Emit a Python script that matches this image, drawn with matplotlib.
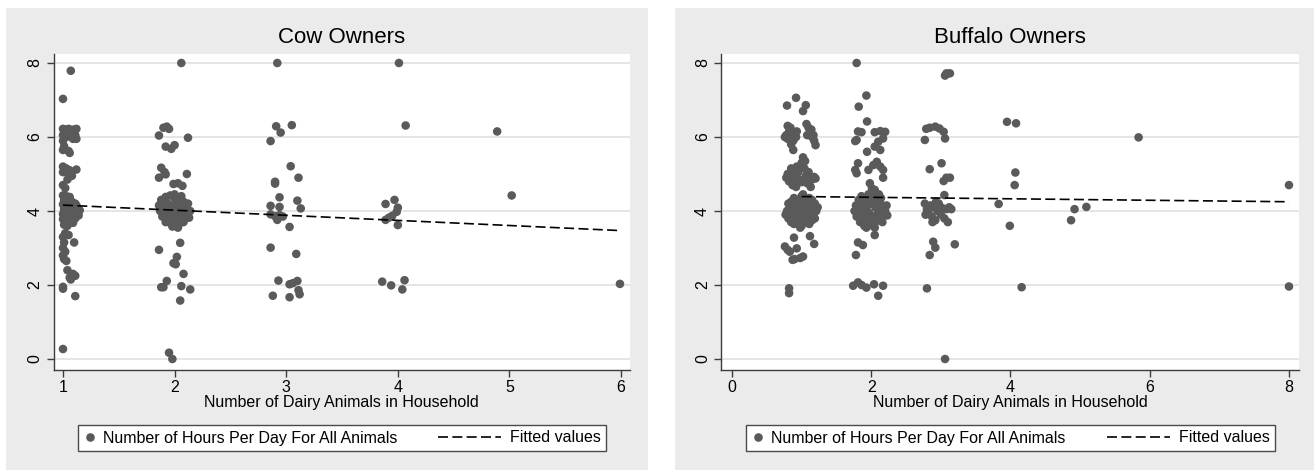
import matplotlib
matplotlib.use("Agg")
import matplotlib.pyplot as plt
from matplotlib.lines import Line2D
from matplotlib.patches import Rectangle
from matplotlib.legend_handler import HandlerBase

plt.rcParams['font.family'] = ['Liberation Sans', 'DejaVu Sans']

# ---------------- data ----------------
panel_titles = ["Cow Owners", "Buffalo Owners"]
x_label = "Number of Dairy Animals in Household"
legend_labels = ["Number of Hours Per Day For All Animals", "Fitted values"]
y_ticks = [0, 2, 4, 6, 8]
y_ticklabels = ["0", "2", "4", "6", "8"]
cow_xticks = [1, 2, 3, 4, 5, 6]
buffalo_xticks = [0, 2, 4, 6, 8]

# Cow owners: (jittered number of animals, hours per day)
cow_col1 = [(1.07, 7.79), (1.00, 7.03),
            (1.00, 6.22), (1.02, 6.20), (1.05, 6.22), (1.09, 6.20), (1.12, 6.22), (1.00, 6.05),
            (1.03, 6.00), (1.08, 6.10), (1.11, 6.05), (1.12, 5.95), (1.00, 5.90), (1.01, 5.75),
            (1.05, 5.62), (1.00, 5.65), (1.09, 5.95), (1.06, 5.57),
            (1.00, 5.20), (1.03, 5.15), (1.06, 5.10), (1.00, 5.05), (1.02, 5.10), (1.12, 5.12),
            (1.08, 4.95), (1.04, 4.85), (1.00, 4.70), (1.02, 4.62), (1.05, 5.00),
            (1.00, 4.42), (1.03, 4.40), (1.06, 4.38), (1.01, 4.30), (1.04, 4.28), (1.08, 4.25),
            (1.11, 4.20), (1.00, 4.18), (1.03, 4.15), (1.06, 4.12), (1.09, 4.10), (1.13, 4.08),
            (1.15, 4.02), (1.01, 4.05), (1.04, 4.00), (1.07, 3.98), (1.10, 3.95), (1.13, 3.92),
            (1.00, 3.92), (1.02, 3.85), (1.05, 3.88), (1.08, 3.83), (1.11, 3.80), (1.00, 3.78),
            (1.03, 3.72), (1.06, 3.70), (1.09, 3.68), (1.01, 3.63), (1.04, 3.60), (1.12, 4.15),
            (1.14, 3.88), (1.02, 4.35), (1.07, 4.05), (1.05, 3.78),
            (1.00, 3.30), (1.01, 3.15), (1.00, 3.00), (1.02, 2.90), (1.00, 2.80), (1.01, 2.70),
            (1.03, 2.65), (1.10, 3.15), (1.02, 3.40), (1.05, 3.35),
            (1.04, 2.40), (1.06, 2.20), (1.09, 2.30), (1.11, 2.25), (1.07, 2.15), (1.00, 1.95),
            (1.00, 1.90), (1.11, 1.70), (1.00, 0.27)]
cow_col2 = [(2.06, 8.00), (1.90, 6.25), (1.93, 6.28), (1.95, 6.22), (1.86, 6.04), (2.12, 5.98),
            (1.92, 5.74), (1.97, 5.68), (2.00, 5.78), (1.88, 5.17), (1.91, 5.05), (1.86, 4.90),
            (1.92, 4.99), (2.11, 5.00), (1.99, 4.73), (2.03, 4.75), (2.07, 4.68),
            (1.88, 4.30), (1.92, 4.38), (1.96, 4.42), (2.00, 4.35), (2.04, 4.30), (2.08, 4.25),
            (2.12, 4.20), (1.86, 4.15), (1.90, 4.12), (1.94, 4.20), (1.98, 4.15), (2.02, 4.18),
            (2.06, 4.10), (2.10, 4.08), (2.14, 4.00), (1.87, 4.00), (1.91, 3.98), (1.95, 4.02),
            (1.99, 3.95), (2.03, 4.00), (2.07, 3.95), (2.11, 3.90), (1.89, 3.85), (1.93, 3.82),
            (1.97, 3.88), (2.01, 3.80), (2.05, 3.85), (2.09, 3.78), (2.13, 3.82), (1.92, 3.70),
            (1.96, 3.68), (2.00, 3.72), (2.04, 3.65), (2.08, 3.70), (1.98, 3.58), (2.03, 3.55),
            (2.00, 4.45), (2.06, 4.40),
            (2.05, 3.14), (1.86, 2.95), (2.02, 2.76), (1.99, 2.59), (2.01, 2.56), (2.08, 2.30),
            (1.93, 2.11), (1.88, 1.94), (1.90, 1.94), (2.06, 1.97), (2.14, 1.88), (2.05, 1.58),
            (1.95, 0.17), (1.98, 0.00)]
cow_col3 = [(2.92, 8.00), (2.91, 6.29), (2.95, 6.12), (3.05, 6.32), (2.86, 5.89), (3.04, 5.21),
            (3.11, 4.90), (2.90, 4.79), (2.90, 4.74), (2.94, 4.37), (3.10, 4.28), (3.13, 4.07),
            (2.86, 4.14), (2.94, 4.11), (2.86, 3.91), (2.90, 3.86), (2.92, 3.76), (2.97, 3.85),
            (2.94, 3.89), (3.03, 3.57), (2.86, 3.01), (3.09, 2.84), (2.93, 2.12), (3.03, 2.02),
            (3.06, 2.05), (3.10, 2.11), (3.11, 1.86), (3.12, 1.75), (2.88, 1.71), (3.03, 1.67)]
cow_col4plus = [(4.01, 8.00), (4.07, 6.31), (4.89, 6.15), (5.02, 4.42), (3.89, 4.19), (3.97, 4.30),
                (4.00, 4.09), (3.99, 3.98), (3.95, 3.87), (3.92, 3.82), (3.89, 3.76), (4.00, 3.62),
                (3.86, 2.09), (3.94, 1.99), (4.04, 1.88), (4.06, 2.13), (5.99, 2.03)]
cow_fit_x = [1, 6]
cow_fit_y = [4.16, 3.47]

# Buffalo owners
buffalo_col1 = [(0.92, 7.06), (0.79, 6.85), (1.06, 6.86), (1.02, 6.70),
                (0.76, 6.00), (0.78, 6.05), (0.80, 5.95), (0.82, 6.15), (0.84, 6.25), (0.86, 6.05),
                (0.88, 5.90), (0.90, 6.10), (0.92, 6.00), (0.85, 5.80), (0.88, 5.65), (0.80, 6.30),
                (0.93, 6.15), (1.07, 6.35), (1.10, 6.25), (1.12, 6.10), (1.15, 6.00), (1.18, 5.90),
                (1.20, 5.78), (1.08, 6.05), (1.14, 6.20), (1.17, 6.05),
                (0.78, 4.90), (0.80, 5.00), (0.82, 4.80), (0.85, 5.15), (0.88, 4.95), (0.90, 4.75),
                (0.93, 5.20), (0.95, 5.05), (0.97, 4.85), (1.00, 5.30), (1.02, 5.45), (1.04, 5.15),
                (1.06, 4.95), (1.08, 4.75), (1.10, 5.05), (1.12, 4.90), (1.15, 4.85), (1.18, 4.92),
                (1.20, 4.88), (0.87, 4.70), (1.05, 5.35), (0.92, 4.65), (1.13, 4.65), (1.00, 4.78),
                (1.21, 4.00), (1.19, 4.20), (1.11, 4.35), (1.00, 4.40), (0.89, 4.35), (0.81, 4.20),
                (0.79, 4.00), (0.81, 3.80), (0.89, 3.65), (1.00, 3.60), (1.11, 3.65), (1.19, 3.80),
                (1.12, 4.09), (1.05, 4.22), (0.95, 4.22), (0.88, 4.09), (0.88, 3.91), (0.95, 3.78),
                (1.05, 3.78), (1.12, 3.91), (1.03, 4.00), (0.97, 4.05), (1.00, 3.93), (1.00, 4.00),
                (1.17, 4.12), (1.08, 4.30), (0.92, 4.30), (0.83, 4.12), (0.83, 3.88), (0.92, 3.70),
                (1.08, 3.70), (1.17, 3.88), (1.06, 4.06), (0.94, 3.94),
                (0.86, 4.00), (1.14, 4.00), (1.00, 4.15), (1.00, 3.82), (0.93, 4.12), (1.07, 3.88),
                (0.93, 3.86), (1.07, 4.14), (0.85, 4.25), (1.15, 3.75), (0.85, 3.78), (1.15, 4.22),
                (1.23, 4.10), (0.77, 3.90), (1.02, 4.45), (0.98, 3.55), (1.15, 4.30), (0.85, 3.70),
                (0.89, 3.28), (1.12, 3.32), (1.18, 3.11), (0.76, 3.04), (0.83, 2.90), (0.93, 2.99),
                (0.87, 2.68), (0.98, 2.73), (1.02, 2.77), (0.80, 2.95), (0.90, 2.70),
                (0.82, 1.91), (0.82, 1.78)]
buffalo_col2 = [(1.79, 8.00), (1.93, 7.12), (1.82, 6.82), (1.94, 6.42), (1.81, 6.15), (1.86, 6.13),
                (1.79, 5.92), (1.77, 5.89), (2.05, 6.13), (2.13, 6.16), (2.20, 6.14), (2.17, 5.96),
                (2.10, 5.87), (2.05, 5.74), (2.13, 5.65), (1.94, 5.60), (1.81, 5.29), (1.77, 5.11),
                (1.79, 5.02), (1.96, 5.11), (2.08, 5.33), (2.13, 5.20), (2.17, 5.11), (2.17, 4.90),
                (2.03, 5.24), (1.98, 4.75), (2.01, 4.61), (2.05, 4.57),
                (1.76, 4.00), (1.78, 4.15), (1.79, 3.85), (1.82, 4.30), (1.83, 4.05), (1.84, 3.70),
                (1.86, 4.40), (1.87, 3.90), (1.88, 4.20), (1.90, 3.60), (1.91, 4.05), (1.92, 4.35),
                (1.94, 3.75), (1.96, 4.45), (1.97, 3.95), (1.98, 3.62), (2.00, 4.25), (2.01, 3.80),
                (2.03, 4.40), (2.05, 3.68), (2.06, 4.10), (2.08, 3.90), (2.09, 4.30), (2.10, 3.75),
                (2.12, 4.05), (2.13, 4.20), (2.15, 3.85), (2.17, 4.10), (2.18, 3.95), (2.20, 4.00),
                (2.22, 4.15), (2.23, 3.88), (1.80, 3.95), (1.85, 4.10), (1.89, 3.80), (2.14, 4.35),
                (2.16, 3.70), (1.95, 4.15), (2.05, 3.55), (1.93, 3.55), (2.11, 4.45),
                (2.05, 3.35), (1.81, 3.15), (1.88, 3.08), (1.78, 2.81), (1.74, 1.98), (1.81, 2.07),
                (1.86, 2.00), (1.93, 1.93), (2.04, 2.02), (2.17, 1.98), (2.10, 1.71)]
buffalo_col3 = [(3.06, 7.66), (3.08, 7.72), (3.13, 7.72), (2.79, 6.22), (2.84, 6.25), (2.92, 6.28),
                (2.98, 6.23), (3.04, 6.14), (3.06, 5.96), (2.77, 5.92), (3.01, 5.29), (2.84, 5.13),
                (3.04, 4.81), (3.08, 4.90), (3.13, 4.90), (3.05, 4.43),
                (2.77, 4.20), (2.80, 4.05), (2.82, 3.95), (2.85, 4.15), (2.87, 3.85), (2.90, 4.10),
                (2.92, 3.75), (2.95, 4.00), (2.97, 4.20), (3.00, 3.90), (3.02, 4.08), (3.05, 3.80),
                (3.08, 4.05), (3.10, 3.70), (3.12, 4.10), (2.78, 3.90), (2.93, 4.25), (2.88, 3.70),
                (3.15, 4.05), (2.89, 3.17), (2.92, 3.01), (2.84, 2.81), (3.20, 3.10), (2.80, 1.91),
                (3.06, 0.00)]
buffalo_col4plus = [(3.95, 6.41), (4.08, 6.37), (4.07, 5.04), (4.06, 4.70), (3.83, 4.19), (3.99, 3.60),
                    (4.16, 1.94), (4.87, 3.75), (4.92, 4.05), (5.09, 4.11), (5.84, 5.99), (8.00, 4.70),
                    (8.00, 1.96)]
buffalo_fit_x = [1, 8]
buffalo_fit_y = [4.39, 4.25]

# ---------------- figure ----------------
W, H = 1314, 471
fig = plt.figure(figsize=(W / 100, H / 100), dpi=100)
fig.patch.set_facecolor("white")
PANEL_BG = "#ebebeb"
fig.patches.append(Rectangle((6 / W, 1 - 470 / H), 642 / W, 462 / H, transform=fig.transFigure,
                             facecolor=PANEL_BG, edgecolor="none", zorder=-10))
fig.patches.append(Rectangle((675 / W, 1 - 470 / H), 639 / W, 462 / H, transform=fig.transFigure,
                             facecolor=PANEL_BG, edgecolor="none", zorder=-10))

MARKER_COLOR = "#5a5a5a"
AXIS_COLOR = "#3c3c3c"
FS = 11.5


class DashHandler(HandlerBase):
    def create_artists(self, legend, orig_handle, xdescent, ydescent, width, height, fontsize, trans):
        y = height / 2.0 - ydescent
        x1 = width - xdescent - 0.15 * fontsize
        x0 = x1 - 3.9 * fontsize
        ln = Line2D([x0, x1], [y, y], color="black", lw=1.2, linestyle=(0, (6, 2.6)))
        ln.set_transform(trans)
        return [ln]


def draw_panel(rect, groups, fit_x, fit_y, xlim, xticks, title, legend_box):
    ax = fig.add_axes(rect)
    ax.set_facecolor("white")
    xs, ys = [], []
    for g in groups:
        for (xv, yv) in g:
            xs.append(xv)
            ys.append(yv)
    ax.scatter(xs, ys, s=38, color=MARKER_COLOR, edgecolors="none", zorder=3, clip_on=False)
    ax.plot(fit_x, fit_y, color="black", lw=1.2, linestyle=(0, (6, 2.6)), zorder=4)
    ax.set_xlim(*xlim)
    ax.set_ylim(-0.297, 8.243)
    ax.set_xticks(xticks)
    ax.set_xticklabels([str(t) for t in xticks])
    ax.set_yticks(y_ticks)
    ax.set_yticklabels(y_ticklabels, rotation=90, va="center", ha="right")
    for s in ["top", "right"]:
        ax.spines[s].set_visible(False)
    for s in ["left", "bottom"]:
        ax.spines[s].set_color(AXIS_COLOR)
        ax.spines[s].set_linewidth(1.0)
    ax.tick_params(direction="out", length=5, width=1, color=AXIS_COLOR, labelsize=FS, labelcolor="black")
    ax.tick_params(axis="x", pad=2)
    ax.tick_params(axis="y", pad=3)
    ax.grid(axis="y", color="#e3e3e3", lw=1.3)
    ax.set_axisbelow(True)
    ax.set_title(title, fontsize=16, pad=8)
    ax.set_xlabel(x_label, fontsize=FS, labelpad=0)

    mh = Line2D([], [], marker="o", linestyle="none", markersize=6.2, color=MARKER_COLOR,
                markeredgecolor="none")
    lh = Line2D([], [], color="black")
    leg = ax.legend([mh, lh], legend_labels, loc="center",
                    bbox_to_anchor=legend_box, bbox_transform=fig.transFigure,
                    mode="expand", ncol=2, frameon=True, fancybox=False,
                    edgecolor="#4a4a4a", facecolor="white", framealpha=1, fontsize=FS,
                    handlelength=0.8, handletextpad=0.4, borderaxespad=0, borderpad=0.35,
                    handler_map={lh: DashHandler()})
    leg.get_frame().set_linewidth(1.0)
    return ax


draw_panel([53.5 / W, 1 - 370 / H, 576.5 / W, 316 / H],
           [cow_col1, cow_col2, cow_col3, cow_col4plus], cow_fit_x, cow_fit_y,
           (0.915, 6.08), cow_xticks, panel_titles[0],
           (78 / W, 1 - 453 / H, 528 / W, 30 / H))
draw_panel([721 / W, 1 - 370 / H, 578 / W, 316 / H],
           [buffalo_col1, buffalo_col2, buffalo_col3, buffalo_col4plus], buffalo_fit_x, buffalo_fit_y,
           (-0.158, 8.144), buffalo_xticks, panel_titles[1],
           (746 / W, 1 - 453 / H, 529 / W, 30 / H))

fig.savefig("out.png", dpi=100, facecolor=fig.get_facecolor())
